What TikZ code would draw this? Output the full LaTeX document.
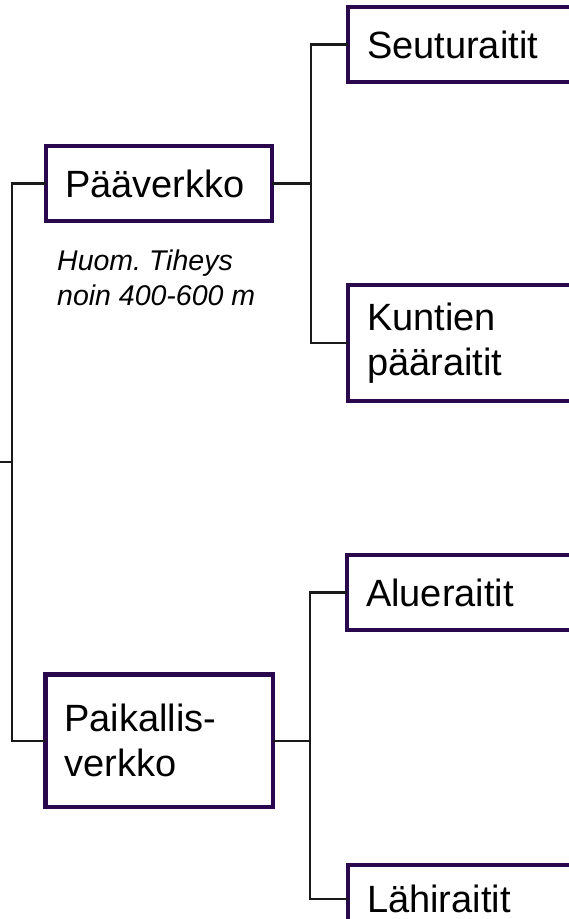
\documentclass[tikz,border=0pt]{standalone}
\usepackage{fontspec}
\setmainfont{Liberation Sans}
\usepackage{xcolor}
\definecolor{netpurple}{RGB}{42,8,78}
\definecolor{linkgray}{RGB}{26,26,26}

\begin{document}
\begin{tikzpicture}[x=1pt,y=-1pt,
  netbox/.style={draw=netpurple,line width=4.4pt,rectangle,outer sep=0pt,
    inner xsep=19pt,inner ysep=0pt,align=left,anchor=north west,
    font=\fontsize{38}{45}\selectfont},
  link/.style={draw=linkgray,line width=2.4pt},
  note/.style={inner sep=0pt,align=left,anchor=north west,
    font=\fontsize{28.5}{35}\selectfont\itshape}]
  \useasboundingbox (0,0) rectangle (569,919);
  \clip (0,0) rectangle (569,919);

  % Main networks
  \node[netbox,minimum width=226pt,minimum height=75pt,text width=188pt] (paa) at (46,146) {Pääverkko};
  \node[netbox,minimum width=227.5pt,minimum height=132.5pt,text width=189.5pt] (pai) at (45.5,674.5) {Paikallis-\\verkko};
  \node[note] (huom) at (57,250) {Huom.\ Tiheys\\noin 400-600 m};

  % Route types
  \node[netbox,minimum width=260pt,minimum height=75pt,text width=222pt] (seu) at (348,7) {Seuturaitit};
  \node[netbox,minimum width=260pt,minimum height=116pt,text width=222pt] (kun) at (348,285) {Kuntien\\pääraitit};
  \node[netbox,minimum width=260pt,minimum height=75pt,text width=222pt] (alu) at (347,555) {Alueraitit};
  \node[netbox,minimum width=260pt,minimum height=68pt,text width=222pt] (lah) at (348,865) {Lähiraitit};

  % Junctions
  \coordinate (edge) at (0,462);
  \coordinate (root) at (12,462);
  \coordinate (jpaa) at (311,0);
  \coordinate (jpai) at (310,0);

  % Connectors
  \draw[link] (paa.west) -| (root) |- (pai.west);
  \draw[link] (edge) -- (root);
  \draw[link] (paa.east) -- (paa.east -| jpaa);
  \draw[link] (seu.west) -| (kun.west -| jpaa) -- (kun.west);
  \draw[link] (pai.east) -- (pai.east -| jpai);
  \draw[link] (alu.west) -| (lah.west -| jpai) -- (lah.west);
\end{tikzpicture}
\end{document}
